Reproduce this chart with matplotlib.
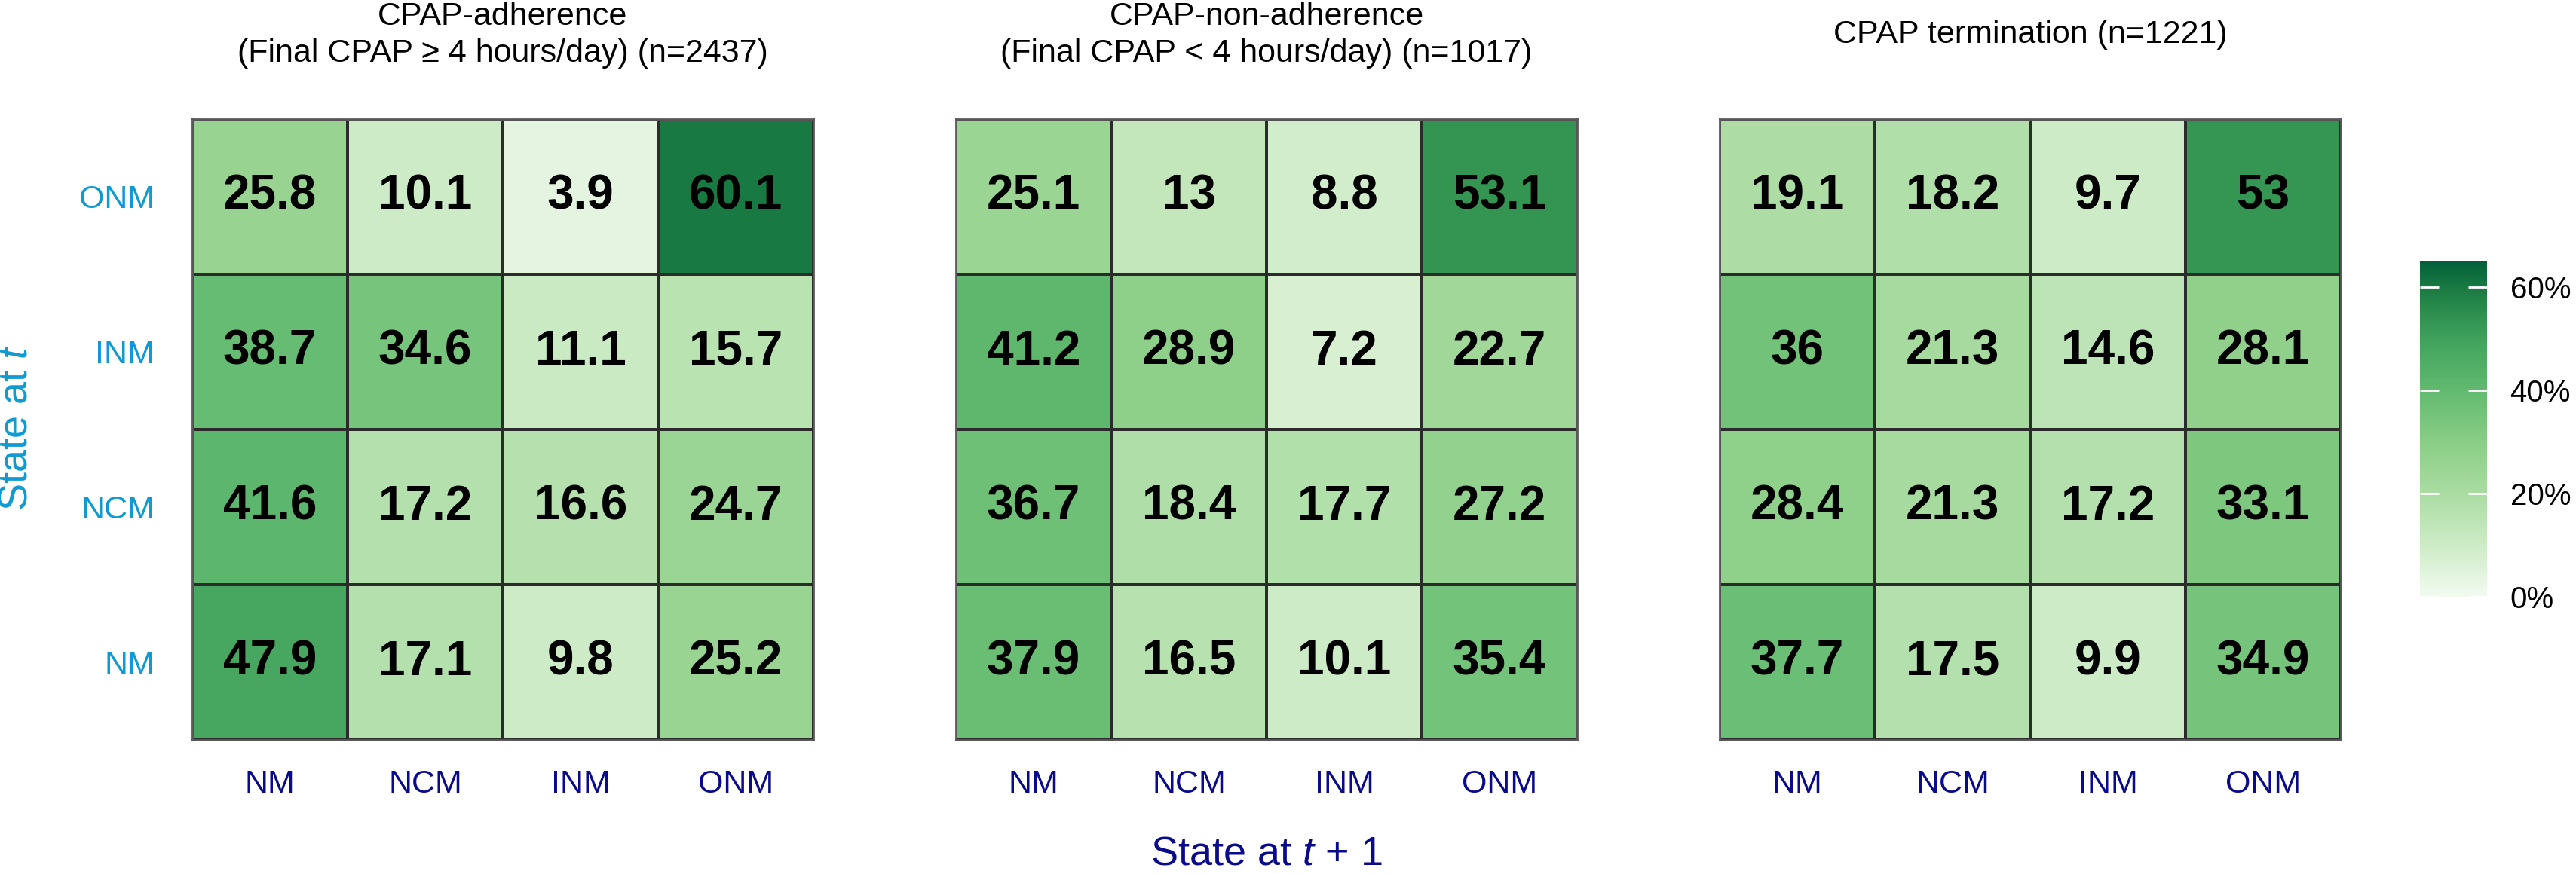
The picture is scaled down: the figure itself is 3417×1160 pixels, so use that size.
import matplotlib
matplotlib.use("Agg")
import matplotlib.pyplot as plt
import numpy as np
from matplotlib.colors import LinearSegmentedColormap, Normalize
from matplotlib.cm import ScalarMappable

plt.rcParams["font.family"] = ["Liberation Sans", "DejaVu Sans"]
plt.rcParams["mathtext.fontset"] = "custom"
plt.rcParams["mathtext.rm"] = "Liberation Sans"
plt.rcParams["mathtext.it"] = "Liberation Sans:italic"

# states (rows listed top to bottom, columns left to right)
row_states = ["ONM", "INM", "NCM", "NM"]
col_states = ["NM", "NCM", "INM", "ONM"]

titles = [
    ["CPAP-adherence", "(Final CPAP \u2265 4 hours/day) (n=2437)"],
    ["CPAP-non-adherence", "(Final CPAP < 4 hours/day) (n=1017)"],
    ["CPAP termination (n=1221)"],
]

adherence = [
    [25.8, 10.1, 3.9, 60.1],
    [38.7, 34.6, 11.1, 15.7],
    [41.6, 17.2, 16.6, 24.7],
    [47.9, 17.1, 9.8, 25.2],
]
non_adherence = [
    [25.1, 13, 8.8, 53.1],
    [41.2, 28.9, 7.2, 22.7],
    [36.7, 18.4, 17.7, 27.2],
    [37.9, 16.5, 10.1, 35.4],
]
termination = [
    [19.1, 18.2, 9.7, 53],
    [36, 21.3, 14.6, 28.1],
    [28.4, 21.3, 17.2, 33.1],
    [37.7, 17.5, 9.9, 34.9],
]
panels = [adherence, non_adherence, termination]

cbar_ticks = [0, 20, 40, 60]
VMIN, VMAX = 0, 65

cmap = LinearSegmentedColormap.from_list("grn", [
    (0 / 65, "#f2faf0"), (10 / 65, "#cdebc6"), (20 / 65, "#aadca2"),
    (30 / 65, "#8acd86"), (40 / 65, "#62ba70"), (50 / 65, "#40a25c"),
    (60 / 65, "#1a7a42"), (1.0, "#03603a")])
norm = Normalize(VMIN, VMAX)

W, H = 3417, 1160
fig = plt.figure(figsize=(W / 100, H / 100), dpi=100)

def box(x0, y0, x1, y1):  # pixel box (top-left origin) -> figure fraction
    return [x0 / W, 1 - y1 / H, (x1 - x0) / W, (y1 - y0) / H]

lefts = [255, 1268, 2281]
size = 824
top = 158
XCOL = "#0a0a8c"
YCOL = "#0f9ad2"

for i, (data, left) in enumerate(zip(panels, lefts)):
    ax = fig.add_axes(box(left, top, left + size, top + size))
    z = np.array(data, dtype=float)[::-1]  # bottom row first
    ax.pcolormesh(np.arange(5), np.arange(5), z, cmap=cmap, norm=norm,
                  edgecolor="#2b2b2b", linewidth=1.5)
    for r in range(4):
        for c in range(4):
            ax.text(c + 0.5, r + 0.5, f"{z[r, c]:g}", ha="center", va="center",
                    fontsize=46, fontweight="bold", color="black")
    ax.set_xlim(0, 4); ax.set_ylim(0, 4)
    ax.set_xticks(np.arange(4) + 0.5)
    ax.set_xticklabels(col_states, fontsize=31, color=XCOL)
    ax.tick_params(axis="x", length=0, pad=28)
    if i == 0:
        ax.set_yticks(np.arange(4) + 0.5)
        ax.set_yticklabels(row_states[::-1], fontsize=31, color=YCOL)
        ax.tick_params(axis="y", length=0, pad=36)
    else:
        ax.set_yticks([])
    for sp in ax.spines.values():
        sp.set_color("#5a5a5a"); sp.set_linewidth(2)
    cx = (left + size / 2) / W
    t = titles[i]
    if len(t) == 2:
        fig.text(cx, 1 - 33 / H, t[0], ha="center", va="baseline", fontsize=31)
        fig.text(cx, 1 - 82 / H, t[1], ha="center", va="baseline", fontsize=31)
    else:
        fig.text(cx, 1 - 57 / H, t[0], ha="center", va="baseline", fontsize=31)

# axis titles
fig.text(22 / W, 1 - 568 / H, r"State at $\mathit{t}$", rotation=90, ha="center",
         va="center", fontsize=39, color=YCOL)
fig.text(1680 / W, 1 - 1148 / H, r"State at $\mathit{t}$ + $\mathit{1}$", ha="center",
         va="baseline", fontsize=39, color=XCOL)

# colour bar
cax = fig.add_axes(box(3210, 347, 3299, 792))
cb = fig.colorbar(ScalarMappable(norm=norm, cmap=cmap), cax=cax, ticks=cbar_ticks)
cb.outline.set_visible(False)
cb.ax.set_yticklabels([f"{v}%" for v in cbar_ticks])
cb.ax.tick_params(labelsize=29, color="white", direction="in", length=18, width=2,
                  left=True, right=True, pad=22)

fig.savefig("out.png", dpi=100)
